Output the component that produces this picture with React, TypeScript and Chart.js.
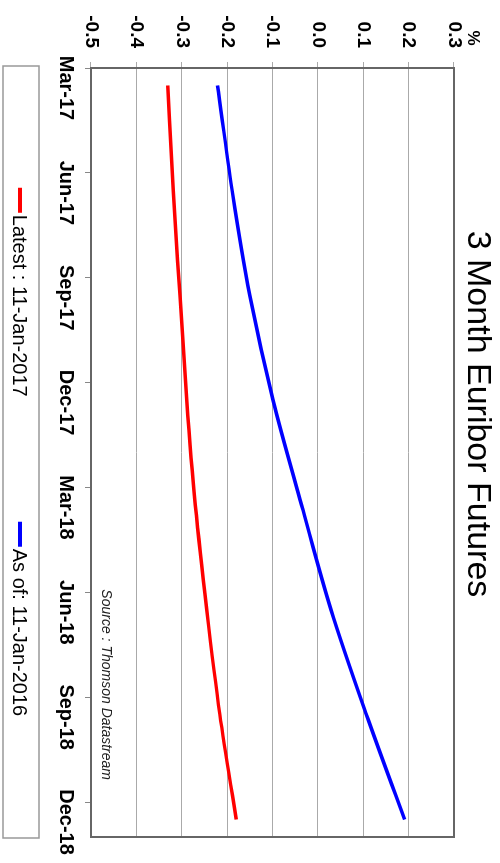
import { useEffect, useRef } from 'react';
import { Chart, registerables } from 'chart.js';

Chart.register(...registerables);

// Quarterly contract labels on the time axis
const contracts = ['Mar-17', 'Jun-17', 'Sep-17', 'Dec-17', 'Mar-18', 'Jun-18', 'Sep-18', 'Dec-18'];
// Axis runs in months counted from 1-Mar-2017; ticks sit on the first of each contract month
const tickMonths = [0, 3, 6, 9, 12, 15, 18, 21];
// Contract settlement dates (mid-month), same month scale
const settleMonths = [0.5, 3.5, 6.5, 9.5, 12.5, 15.5, 18.5, 21.5];

// Implied 3M Euribor rates, %
const latest = [-0.331, -0.319, -0.304, -0.289, -0.27, -0.245, -0.216, -0.18];
const yearAgo = [-0.221, -0.189, -0.15, -0.099, -0.036, 0.029, 0.107, 0.191];

const latestLabel = 'Latest : 11-Jan-2017';
const yearAgoLabel = 'As of: 11-Jan-2016';
const titleText = '3 Month Euribor Futures';
const unitText = '%';
const sourceText = 'Source : Thomson Datastream';

const W = 863;
const H = 500;
const FONT = '"Liberation Sans", Arial, Helvetica, sans-serif';

const decor = {
  id: 'decor',
  beforeDatasetsDraw(chart: any) {
    const { ctx, chartArea: a } = chart;
    ctx.save();
    // frame around the plot
    ctx.strokeStyle = '#666';
    ctx.lineWidth = 2;
    ctx.strokeRect(a.left, a.top, a.right - a.left, a.bottom - a.top);
    // source note
    ctx.fillStyle = '#222';
    ctx.font = `italic 14px ${FONT}`;
    ctx.textAlign = 'right';
    ctx.textBaseline = 'alphabetic';
    ctx.fillText(sourceText, a.right - 57, a.bottom - 11);
    ctx.restore();
  },
  afterDraw(chart: any) {
    const { ctx } = chart;
    ctx.save();
    ctx.textBaseline = 'alphabetic';
    ctx.fillStyle = '#000';

    // title
    ctx.font = `34px ${FONT}`;
    ctx.textAlign = 'center';
    ctx.fillText(titleText, 414, 32);

    // unit
    ctx.font = `bold 17px ${FONT}`;
    ctx.fillText(unitText, 38, 32);

    // legend box
    const bx = 66, by = 461, bw = 772, bh = 36;
    ctx.strokeStyle = '#999';
    ctx.lineWidth = 1.5;
    ctx.strokeRect(bx, by, bw, bh);

    ctx.font = `20px ${FONT}`;
    ctx.textAlign = 'left';
    const items = chart.data.datasets.map((d: any) => ({ text: d.label, color: d.borderColor }));
    const lineLen = 25;
    const gapLine = 2;
    const gapItems = 125;
    const widths = items.map((it: any) => lineLen + gapLine + ctx.measureText(it.text).width);
    const total = widths.reduce((s: number, w: number) => s + w, 0) + gapItems * (items.length - 1);
    let x = bx + bw / 2 - total / 2;
    const cy = by + bh / 2 + 1;
    items.forEach((it: any, i: number) => {
      ctx.strokeStyle = it.color;
      ctx.lineWidth = 4;
      ctx.beginPath();
      ctx.moveTo(x, cy);
      ctx.lineTo(x + lineLen, cy);
      ctx.stroke();
      ctx.fillStyle = '#000';
      ctx.fillText(it.text, x + lineLen + gapLine, cy + 7);
      x += widths[i] + gapItems;
    });
    ctx.restore();
  },
};

export default function App() {
  const ref = useRef<HTMLCanvasElement>(null);

  useEffect(() => {
    if (!ref.current) return;
    Chart.defaults.font.family = FONT;
    const chart = new Chart(ref.current, {
      type: 'line',
      data: {
        datasets: [
          {
            label: latestLabel,
            data: settleMonths.map((m, i) => ({ x: m, y: latest[i] })),
            borderColor: 'rgb(255,0,0)',
            borderWidth: 3.5,
            pointRadius: 0,
            cubicInterpolationMode: 'monotone',
            fill: false,
          },
          {
            label: yearAgoLabel,
            data: settleMonths.map((m, i) => ({ x: m, y: yearAgo[i] })),
            borderColor: 'rgb(0,0,255)',
            borderWidth: 3.5,
            pointRadius: 0,
            cubicInterpolationMode: 'monotone',
            fill: false,
          },
        ],
      },
      options: {
        responsive: false,
        devicePixelRatio: 1,
        animation: false,
        layout: { padding: { left: 0, right: 26, top: 46, bottom: 0 } },
        plugins: {
          legend: { display: false },
          title: { display: false },
          tooltip: { enabled: false },
        },
        scales: {
          x: {
            type: 'linear',
            min: 0,
            max: 22,
            afterBuildTicks: (s: any) => {
              s.ticks = tickMonths.map((v) => ({ value: v }));
            },
            afterFit: (s: any) => {
              s.height = 91;
            },
            grid: { drawOnChartArea: false, drawTicks: true, tickLength: 6, color: '#888' },
            border: { display: false },
            ticks: {
              autoSkip: false,
              maxRotation: 0,
              labelOffset: 20,
              padding: 7,
              color: '#000',
              font: { size: 20, weight: 'bold' },
              callback: (v: any) => contracts[tickMonths.indexOf(Number(v))] ?? '',
            },
          },
          y: {
            min: -0.5,
            max: 0.3,
            afterFit: (s: any) => {
              s.width = 68;
            },
            grid: { color: '#aaa', lineWidth: 1, tickLength: 6 },
            border: { display: false },
            ticks: {
              stepSize: 0.1,
              padding: 14,
              color: '#000',
              font: { size: 19, weight: 'bold' },
              callback: (v: any) => Number(v).toFixed(1),
            },
          },
        },
      },
      plugins: [decor],
    } as any);
    return () => chart.destroy();
  }, []);

  return (
    <div
      style={{
        position: 'fixed',
        left: 0,
        top: 0,
        width: H,
        height: W,
        overflow: 'hidden',
        background: '#fff',
      }}
    >
      <div
        style={{
          position: 'absolute',
          left: 0,
          top: 0,
          width: W,
          height: H,
          transformOrigin: '0 0',
          transform: `translateX(${H}px) rotate(90deg)`,
        }}
      >
        <canvas ref={ref} width={W} height={H} style={{ display: 'block', width: W, height: H }} />
      </div>
    </div>
  );
}
